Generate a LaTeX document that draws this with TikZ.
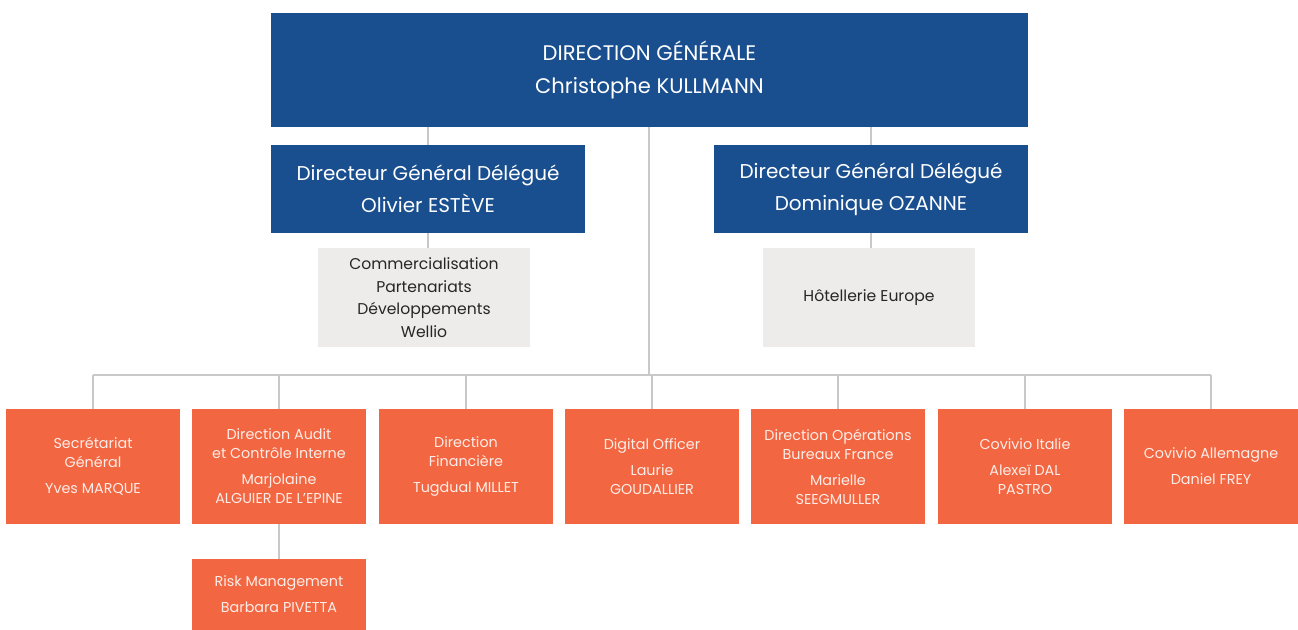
\documentclass[tikz,border=0pt]{standalone}
\usepackage{fontspec}
\setmainfont{Poppins}
\usetikzlibrary{positioning}
\definecolor{covBlue}{RGB}{25,78,143}
\definecolor{covOrange}{RGB}{242,102,65}
\definecolor{covGrey}{RGB}{237,236,234}
\definecolor{covLine}{RGB}{200,200,200}
\tikzset{orgchart/.style={
  box/.style={draw=none, inner sep=2pt, outer sep=0pt, align=center},
  head/.style={box, fill=covBlue, text=white, font=\fontsize{15}{23.5}\selectfont},
  deputy/.style={box, fill=covBlue, text=white, font=\fontsize{14.2}{23}\selectfont,
    minimum width=7.85cm, minimum height=2.2cm},
  scope/.style={box, fill=covGrey, text=black!85, font=\fontsize{11.1}{16}\selectfont,
    minimum width=5.3cm, minimum height=2.475cm},
  dept/.style={box, fill=covOrange, text=white!88!covOrange, font=\fontsize{10.2}{13.5}\selectfont,
    minimum width=4.35cm, minimum height=2.875cm},
  link/.style={draw=covLine, line width=0.9pt},
}}
\begin{document}
\begin{tikzpicture}[orgchart, x=0.025cm, y=-0.025cm]
\useasboundingbox (0,0) rectangle (1298,630);

% ---- general management ----
\node[head, minimum width=18.925cm, minimum height=2.85cm] (dg) at (649.5,70)
  {DIRECTION GÉNÉRALE\\Christophe KULLMANN};

% ---- deputies ----
\node[deputy] (dgdl) at (428,189) {Directeur Général Délégué\\Olivier ESTÈVE};
\node[deputy] (dgdr) at (871,189) {Directeur Général Délégué\\Dominique OZANNE};

% ---- their scopes ----
\node[scope] (scl) at (424,297.5) {Commercialisation\\Partenariats\\Développements\\Wellio};
\node[scope] (scr) at (869,297.5) {Hôtellerie Europe};

% ---- departments ----
\node[dept] (d1) at (93,466.5)   {Secrétariat\\Général\\[5pt]Yves MARQUE};
\node[dept] (d2) at (279,466.5)  {Direction Audit\\et Contrôle Interne\\[5pt]Marjolaine\\ALGUIER DE L'EPINE};
\node[dept] (d3) at (466,466.5)  {Direction\\Financière\\[5pt]Tugdual MILLET};
\node[dept] (d4) at (652,466.5)  {Digital Officer\\[5pt]Laurie\\GOUDALLIER};
\node[dept] (d5) at (838,466.5)  {Direction Opérations\\Bureaux France\\[5pt]Marielle\\SEEGMULLER};
\node[dept] (d6) at (1025,466.5) {Covivio Italie\\[5pt]Alexeï DAL\\PASTRO};
\node[dept] (d7) at (1211,466.5) {Covivio Allemagne\\[5pt]Daniel FREY};
\node[dept, minimum height=1.775cm] (risk) at (279,594.5) {Risk Management\\[5pt]Barbara PIVETTA};

% ---- links ----
\coordinate (bus) at (649,375);
\draw[link] (dg.south -| dgdl.north) -- (dgdl.north);
\draw[link] (dg.south -| dgdr.north) -- (dgdr.north);
\draw[link] (dgdl.south) -- (dgdl.south |- scl.north);
\draw[link] (dgdr.south) -- (dgdr.south |- scr.north);
\draw[link] (dg.south -| bus) -- (bus);
\draw[link] (d1.north |- bus) -- (d7.north |- bus);
\foreach \d in {d1,d2,d3,d4,d5,d6,d7}
  \draw[link] (\d.north |- bus) -- (\d.north);
\draw[link] (d2.south) -- (risk.north);

\end{tikzpicture}
\end{document}
